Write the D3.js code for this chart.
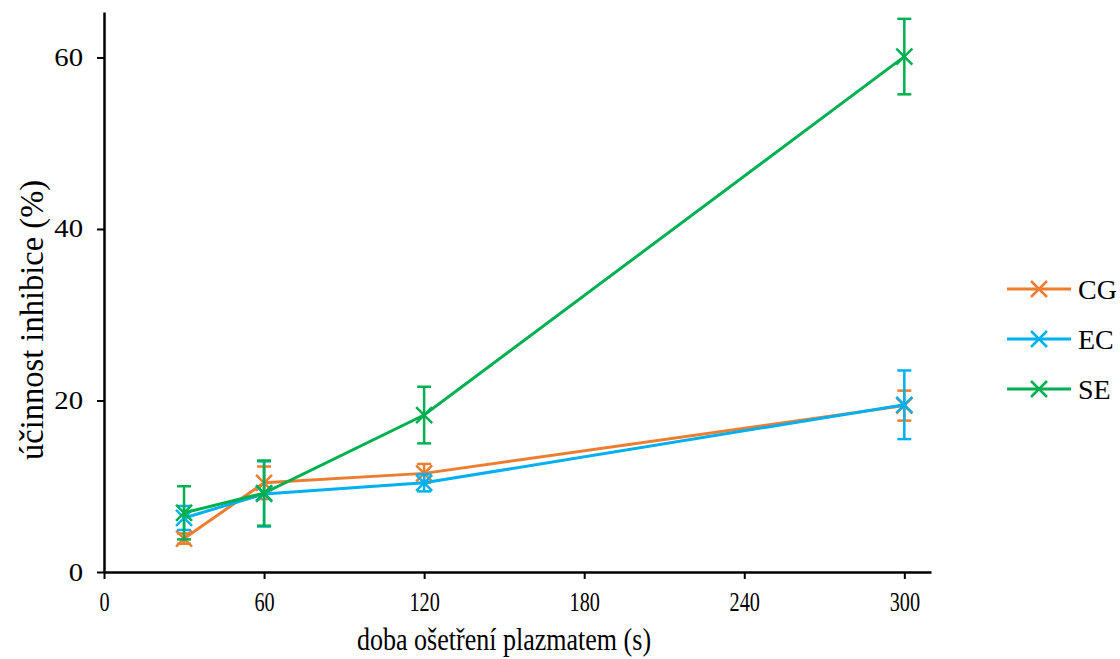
<!DOCTYPE html>
<html>
<head>
<meta charset="utf-8">
<script src="https://cdn.jsdelivr.net/npm/d3@7"></script>
<style>
body{margin:0;background:#fff;}
svg text{font-family:"Liberation Serif","Times New Roman",Times,serif;fill:#000;}
</style>
</head>
<body>
<svg class="plot"></svg>
<script>
// data
var times=[30,60,120,300];
var seriesNames=["CG","EC","SE"];
var cgValues=[3.9,10.4,11.5,19.4];
var cgErrors=[0.6,1.9,1.1,1.75];
var ecValues=[6.3,9.1,10.4,19.5];
var ecErrors=[1.4,3.8,1.0,4.0];
var seValues=[6.9,9.2,18.3,60.1];
var seErrors=[3.1,3.8,3.3,4.4];
var xTicks=[0,60,120,180,240,300];
var yTicks=[0,20,40,60];
var colors=["#ED7D31","#00B0F0","#00B050"];

var font="Liberation Serif";
var screen={width:1120,height:659};
var svg=d3.select("svg.plot")
          .attr("width",screen.width)
          .attr("height",screen.height);

var series=[
  {name:seriesNames[0],values:cgValues,errors:cgErrors,color:colors[0]},
  {name:seriesNames[1],values:ecValues,errors:ecErrors,color:colors[1]},
  {name:seriesNames[2],values:seValues,errors:seErrors,color:colors[2]}
];

var xscale=d3.scaleLinear()
             .domain([0,310])
             .range([104,931]);
var yscale=d3.scaleLinear()
             .domain([0,65.3])
             .range([572,12]);

// axes
var xAxis=d3.axisBottom(xscale).tickValues(xTicks).tickSize(7).tickSizeOuter(0);
var gx=svg.append("g")
   .attr("transform","translate(0,572)")
   .call(xAxis);
var yAxis=d3.axisLeft(yscale).tickValues(yTicks).tickSize(7).tickSizeOuter(0);
var gy=svg.append("g")
   .attr("transform","translate(104,0)")
   .call(yAxis);
[gx,gy].forEach(function(g){
  g.attr("font-family",font);
  g.select(".domain").attr("stroke","#000").attr("stroke-width",2.5);
  g.selectAll(".tick line").attr("stroke","#000").attr("stroke-width",2);
  g.selectAll(".tick text").remove();
});
gx.selectAll(".tick").append("text")
  .attr("font-family",font)
  .attr("font-size",27)
  .attr("text-anchor","middle")
  .attr("transform","translate(0,39) scale(0.75,1)")
  .text(function(d){return d;});
gy.selectAll(".tick").append("text")
  .attr("font-family",font)
  .attr("font-size",25)
  .attr("text-anchor","end")
  .attr("transform","translate(-21,8) scale(1.15,1)")
  .text(function(d){return d;});

// axis titles
svg.append("text")
   .attr("font-family",font)
   .attr("transform","translate(504,650) scale(0.84,1)")
   .attr("text-anchor","middle")
   .attr("font-size",31)
   .text("doba ošetření plazmatem (s)");
svg.append("text")
   .attr("font-family",font)
   .attr("transform","translate(43,320) rotate(-90) scale(1.05,1.1)")
   .attr("text-anchor","middle")
   .attr("font-size",31)
   .text("účinnost inhibice (%)");

var line=d3.line()
           .x(function(d){return xscale(d.t);})
           .y(function(d){return yscale(d.v);});

var cross=function(g,size,color,width){
  g.append("path")
   .attr("d","M"+(-size)+","+(-size)+"L"+size+","+size+"M"+(-size)+","+size+"L"+size+","+(-size))
   .attr("stroke",color)
   .attr("stroke-width",width)
   .attr("fill","none");
};

var plot=svg.append("g").classed("plot",true);
series.forEach(function(s){
  var pts=times.map(function(t,i){return {t:t,v:s.values[i],e:s.errors[i]};});
  var g=plot.append("g");
  // error bars
  var eb=g.selectAll("g.err")
          .data(pts)
          .enter()
          .append("g")
          .classed("err",true);
  eb.append("line")
    .attr("x1",function(d){return xscale(d.t);})
    .attr("x2",function(d){return xscale(d.t);})
    .attr("y1",function(d){return yscale(d.v+d.e);})
    .attr("y2",function(d){return yscale(d.v-d.e);})
    .attr("stroke",s.color).attr("stroke-width",2.5);
  [1,-1].forEach(function(sign){
    eb.append("line")
      .attr("x1",function(d){return xscale(d.t)-7;})
      .attr("x2",function(d){return xscale(d.t)+7;})
      .attr("y1",function(d){return yscale(d.v+sign*d.e);})
      .attr("y2",function(d){return yscale(d.v+sign*d.e);})
      .attr("stroke",s.color).attr("stroke-width",2.5);
  });
  g.append("path")
   .datum(pts)
   .attr("d",line)
   .attr("fill","none")
   .attr("stroke",s.color)
   .attr("stroke-width",3);
  g.selectAll("g.mark")
   .data(pts)
   .enter()
   .append("g")
   .classed("mark",true)
   .attr("transform",function(d){return "translate("+xscale(d.t)+","+yscale(d.v)+")";})
   .each(function(){cross(d3.select(this),8,s.color,2.5);});
});

// legend
var legend=svg.append("g")
              .classed("legend",true)
              .attr("transform","translate(1007,289)");
var legendline=legend.selectAll("g")
                     .data(series)
                     .enter()
                     .append("g")
                     .attr("transform",function(d,i){return "translate(0,"+(i*50)+")";});
legendline.append("line")
          .attr("x1",0).attr("x2",64)
          .attr("y1",0).attr("y2",0)
          .attr("stroke",function(d){return d.color;})
          .attr("stroke-width",3);
legendline.append("g")
          .attr("transform","translate(32,0)")
          .each(function(d){cross(d3.select(this),8,d.color,2.5);});
legendline.append("text")
          .attr("font-family",font)
          .attr("x",71)
          .attr("y",10)
          .attr("font-size",28)
          .text(function(d){return d.name;});
</script>
</body>
</html>
